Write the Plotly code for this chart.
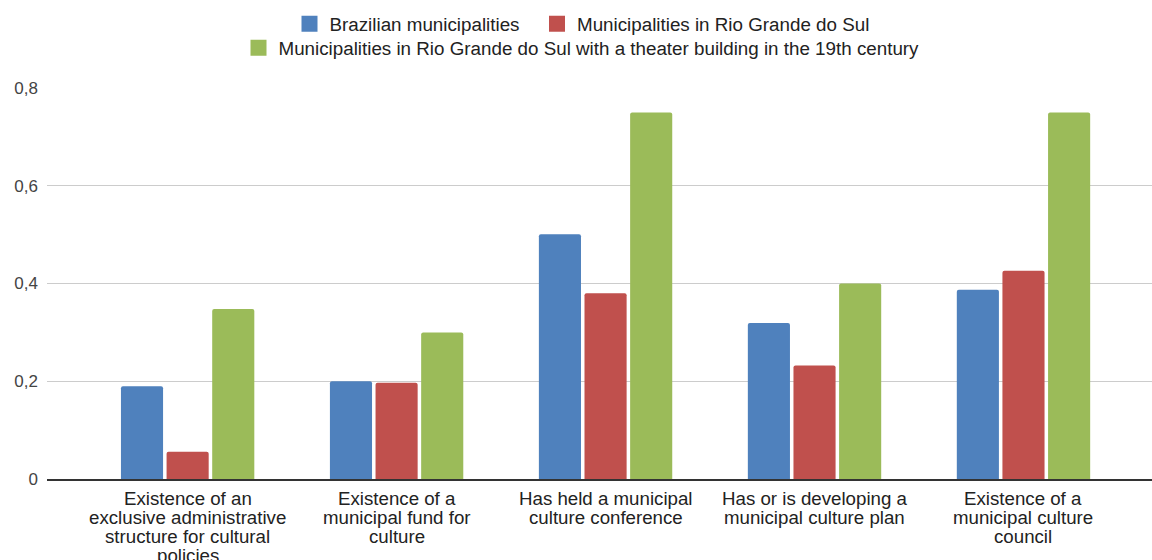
import plotly.graph_objects as go

categories = [
    "Existence of an exclusive administrative structure for cultural policies",
    "Existence of a municipal fund for culture",
    "Has held a municipal culture conference",
    "Has or is developing a municipal culture plan",
    "Existence of a municipal culture council",
]
category_lines = [
    ["Existence of an", "exclusive administrative", "structure for cultural", "policies"],
    ["Existence of a", "municipal fund for", "culture"],
    ["Has held a municipal", "culture conference"],
    ["Has or is developing a", "municipal culture plan"],
    ["Existence of a", "municipal culture", "council"],
]

series_names = [
    "Brazilian municipalities",
    "Municipalities in Rio Grande do Sul",
    "Municipalities in Rio Grande do Sul with a theater building in the 19th century",
]
brazil = [0.19, 0.2, 0.501, 0.319, 0.387]
rio_grande = [0.056, 0.197, 0.38, 0.232, 0.426]
theater = [0.348, 0.3, 0.75, 0.4, 0.75]

tick_vals = [0, 0.2, 0.4, 0.6, 0.8]
tick_text = ["0", "0,2", "0,4", "0,6", "0,8"]

colors = ["#4f81bd", "#c0504d", "#9bbb59"]
legend_ids = ["legend", "legend3", "legend2"]
FONT = "Liberation Sans, Arial, sans-serif"

fig = go.Figure()
for name, vals, col in zip(series_names, [brazil, rio_grande, theater], colors):
    fig.add_trace(go.Bar(x=categories, y=vals, name=name, showlegend=False,
                         marker=dict(color=col, line=dict(width=0), cornerradius=2),
                         hoverinfo="y"))
# legend entries
for name, col, lg in zip(series_names, colors, legend_ids):
    fig.add_trace(go.Scatter(x=[None], y=[None], mode="markers", name=name,
                             marker=dict(symbol="square", size=16, color=col),
                             legend=lg, showlegend=True))

for cat, lines in zip(categories, category_lines):
    for j, line in enumerate(lines):
        fig.add_annotation(x=cat, xref="x", y=0, yref="paper", yanchor="middle",
                           yshift=-19 - 19.2 * j, text=line, showarrow=False,
                           font=dict(family=FONT, size=18.7, color="#222222"))

leg_common = dict(orientation="h", xref="container", yref="container",
                  xanchor="left", yanchor="middle",
                  font=dict(family=FONT, size=18.8, color="#222222"),
                  bgcolor="rgba(0,0,0,0)", itemclick=False, borderwidth=0)

fig.update_layout(
    width=1152, height=560,
    margin=dict(l=47, r=0, t=88, b=81),
    paper_bgcolor="white", plot_bgcolor="white",
    barmode="group", bargap=0.345, bargroupgap=0.077,
    font=dict(family=FONT, color="#222222"),
    legend=dict(x=289.5 / 1152, y=0.9571, **leg_common),
    legend3=dict(x=537 / 1152, y=0.9571, **leg_common),
    legend2=dict(x=238.5 / 1152, y=0.9143, **leg_common),
    xaxis=dict(type="category", range=[-0.673, 4.615], showticklabels=False,
               showgrid=False, showline=True, linecolor="#333333", linewidth=1.5,
               ticks="", zeroline=False),
    yaxis=dict(range=[0, 0.8], tickvals=tick_vals, ticktext=tick_text,
               showgrid=True, gridcolor="#cccccc", gridwidth=1, zeroline=False,
               ticks="", ticklabelstandoff=8, showline=False,
               tickfont=dict(family=FONT, size=17, color="#444444")),
)

fig.write_html("out.html")
